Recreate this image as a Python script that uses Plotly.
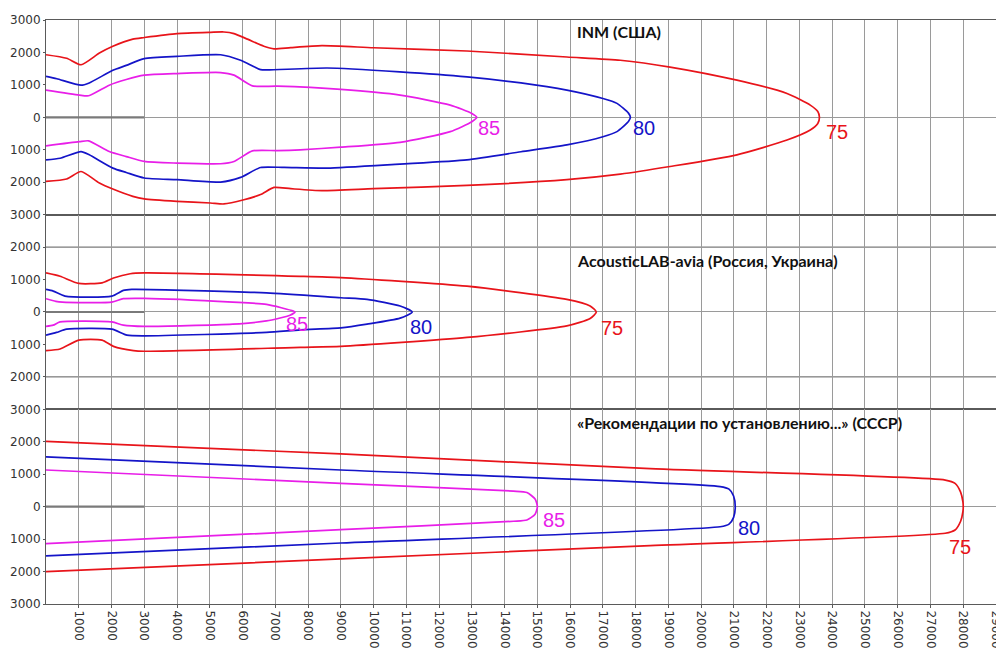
import plotly.graph_objects as go
from plotly.subplots import make_subplots

# ---------------- DATA ----------------
levels = ["75", "80", "85"]
level_colors = ["#e8141a", "#1414c8", "#e81ee8"]

panel_titles = [
    "INM (США)",
    "AcousticLAB-avia (Россия, Украина)",
    "«Рекомендации по установлению...» (СССР)",
]

# Panel 1: INM (USA)
inm75_x = [0, 630, 1070, 1630, 2040, 2650, 3000, 4000, 5020, 5430, 5740, 6150, 6650, 6960, 7470, 8420,
           10000, 12850, 15900, 17530, 19050, 21090, 22620, 23330, 23560, 23610,
           23560, 23330, 22620, 21090, 19050, 17530, 15900, 12850, 10000, 8420, 7470, 6960, 6550, 6040,
           5430, 5020, 4000, 3000, 2650, 2040, 1630, 1070, 630, 0]
inm75_y = [1930, 1820, 1620, 1980, 2190, 2410, 2460, 2580, 2620, 2630, 2580, 2410, 2190, 2110, 2150, 2210,
           2145, 2045, 1860, 1760, 1550, 1145, 735, 377, 180, 0,
           -190, -390, -700, -1155, -1515, -1750, -1920, -2100, -2200, -2260, -2200, -2160, -2380, -2540,
           -2670, -2640, -2590, -2515, -2435, -2210, -2025, -1670, -1900, -1975]

inm80_x = [0, 330, 1070, 1320, 2040, 2450, 3000, 4000, 5330, 5940, 6550, 6750, 8580, 10800, 12850, 14500,
           15900, 17000, 17430, 17780, 17840,
           17780, 17430, 17000, 15900, 14500, 12850, 10800, 8580, 7270, 6550, 5940, 5330, 4000, 3000,
           2450, 2040, 1320, 1070, 430, 0]
inm80_y = [1265, 1190, 990, 1060, 1450, 1600, 1810, 1880, 1930, 1760, 1470, 1460, 1520, 1400, 1245, 1060,
           840, 580, 430, 130, 0,
           -130, -440, -600, -850, -1060, -1310, -1440, -1565, -1545, -1545, -1850, -1995, -1920, -1870,
           -1700, -1565, -1155, -1055, -1260, -1310]

inm85_x = [0, 1020, 1300, 1930, 2450, 3000, 4000, 5330, 5740, 6300, 7060, 9000, 10810, 12340, 13000, 13150,
           13000, 12340, 10810, 9000, 7760, 7060, 6300, 5740, 5330, 4000, 3000, 2450, 1930, 1300, 1020, 0]
inm85_y = [840, 685, 665, 990, 1165, 1300, 1350, 1380, 1300, 970, 960, 860, 685, 377, 120, 0,
           -135, -440, -770, -920, -1000, -1025, -1035, -1360, -1430, -1410, -1360, -1210, -1055, -725, -750, -880]

# Panel 2: AcousticLAB-avia
alab75_x = [0, 430, 1000, 1710, 2060, 2570, 3000, 7760, 9000, 12850, 15900, 16610, 16800,
            16610, 15900, 12850, 9000, 7760, 3000, 2670, 2060, 1710, 1000, 430, 0]
alab75_y = [1205, 1100, 880, 900, 1050, 1180, 1205, 1100, 1060, 795, 390, 185, 0,
            -200, -430, -785, -1060, -1090, -1210, -1190, -1060, -865, -865, -1140, -1190]

alab80_x = [0, 220, 580, 2010, 2360, 2620, 6730, 9000, 9800, 10810, 11180,
            10810, 9800, 9000, 7760, 6730, 3000, 2470, 2010, 630, 320, 0]
alab80_y = [695, 645, 490, 490, 665, 695, 590, 440, 390, 185, 0,
            -190, -375, -490, -550, -630, -735, -715, -530, -530, -630, -715]

alab85_x = [0, 300, 500, 2010, 2360, 3000, 5700, 6730, 7550, 7600,
            7450, 6730, 5700, 3000, 2360, 2010, 430, 220, 0]
alab85_y = [410, 330, 305, 305, 410, 420, 305, 235, 30, 0,
            -100, -275, -375, -445, -405, -305, -305, -405, -445]

# Panel 3: USSR recommendations
ussr75_x = [0, 9000, 18440, 27450, 27750, 27920, 27990, 28000, 27990, 27920, 27750, 27450, 18440, 9000, 0]
ussr75_y = [2010, 1625, 1170, 820, 720, 450, 150, 0, -150, -450, -720, -820, -1200, -1610, -2000]

ussr80_x = [0, 9000, 20580, 20850, 20990, 21040, 20990, 20850, 20580, 9000, 0]
ussr80_y = [1535, 1130, 620, 540, 330, 0, -330, -540, -620, -1120, -1515]

ussr85_x = [0, 9000, 14270, 14680, 14930, 15000, 14930, 14680, 14270, 9000, 0]
ussr85_y = [1130, 720, 480, 435, 235, 0, -235, -410, -450, -710, -1140]

# contour label positions (75, 80, 85) per panel
inm_label_x = [24140, 18260, 13530]
inm_label_y = [-465, -330, -340]
alab_label_x = [17280, 11450, 7660]
alab_label_y = [-500, -470, -375]
ussr_label_x = [27910, 21470, 15510]
ussr_label_y = [-1250, -670, -400]

# runway
runway_x = [0, 3000]
runway_y = [0, 0]

# axis ticks
x_ticks = list(range(1000, 29001, 1000))
x_tick_text = [str(v) for v in x_ticks]
y_ticks_full = [3000, 2000, 1000, 0, -1000, -2000, -3000]
y_ticks_mid = [2000, 1000, 0, -1000, -2000]

# ---------------- FIGURE ----------------
panels = [
    ([(inm75_x, inm75_y), (inm80_x, inm80_y), (inm85_x, inm85_y)], inm_label_x, inm_label_y, y_ticks_full),
    ([(alab75_x, alab75_y), (alab80_x, alab80_y), (alab85_x, alab85_y)], alab_label_x, alab_label_y, y_ticks_mid),
    ([(ussr75_x, ussr75_y), (ussr80_x, ussr80_y), (ussr85_x, ussr85_y)], ussr_label_x, ussr_label_y, y_ticks_full),
]
title_y = [2650, 1590, 2600]
title_x = 16150

fig = make_subplots(rows=3, cols=1, shared_xaxes=True, vertical_spacing=0)

tick_font = dict(family="DejaVu Sans", size=12, color="#333333")
xtick_font = dict(family="DejaVu Sans", size=12, color="#333333")
grid_col = "#9a9a9a"
line_col = "#5a5a5a"

for r, (curves, lx, ly, yt) in enumerate(panels, start=1):
    # runway
    fig.add_trace(go.Scatter(x=runway_x, y=runway_y, mode="lines",
                             line=dict(color="#7a7a7a", width=2.2),
                             hoverinfo="skip", showlegend=False), row=r, col=1)
    for (cx, cy), col in zip(curves, level_colors):
        fig.add_trace(go.Scatter(x=cx, y=cy, mode="lines",
                                 line=dict(color=col, width=1.7, shape="spline", smoothing=0.6),
                                 hoverinfo="skip", showlegend=False), row=r, col=1)
    for xx, yy, txt, col in zip(lx, ly, levels, level_colors):
        fig.add_annotation(x=xx, y=yy, text=txt, showarrow=False,
                           font=dict(family="Liberation Sans", size=20, color=col),
                           xanchor="center", yanchor="middle", row=r, col=1)
    fig.add_annotation(x=title_x, y=title_y[r - 1], text="<b>" + panel_titles[r - 1] + "</b>",
                       showarrow=False, xanchor="left", yanchor="middle",
                       font=dict(family="Lato", size=16, color="#111111"), row=r, col=1)
    fig.update_yaxes(range=[-3000, 3000], tickvals=yt, ticktext=[str(abs(v)) for v in yt],
                     showgrid=False, zeroline=True, zerolinecolor=grid_col, zerolinewidth=1,
                     showline=True, mirror=True, linecolor=line_col, linewidth=1,
                     ticks="outside", ticklen=2, tickcolor=line_col, automargin=False,
                     tickfont=tick_font, fixedrange=True, row=r, col=1)
    fig.update_xaxes(range=[0, 29000], tickvals=x_ticks, ticktext=x_tick_text,
                     showgrid=True, gridcolor=grid_col, automargin=False,
                     gridwidth=1, zeroline=False, showline=True, mirror=True,
                     linecolor=line_col, linewidth=1, row=r, col=1)

# extra horizontal lines in the middle panel
for yv in [2000, -2000]:
    fig.add_hline(y=yv, line=dict(color=line_col, width=1), layer="below", row=2, col=1)

fig.update_xaxes(ticks="outside", ticklen=3, tickcolor=line_col, tickangle=90,
                 tickfont=xtick_font, showticklabels=True, row=3, col=1)

# the page body adds an 8px margin; margins below compensate for it
fig.update_layout(
    width=996, height=645,
    margin=dict(l=38, r=8, t=12, b=49),
    paper_bgcolor="white", plot_bgcolor="white",
    showlegend=False,
)

fig.write_html("out.html", config={"displayModeBar": False})
